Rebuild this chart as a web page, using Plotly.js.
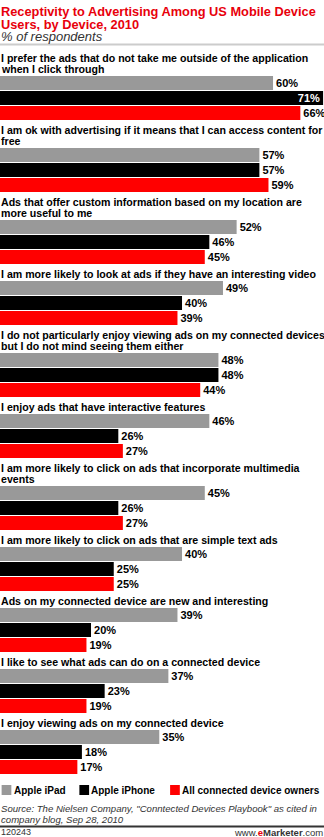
<!DOCTYPE html>
<html>
<head>
<meta charset="utf-8">
<script src="https://cdn.plot.ly/plotly-3.0.1.min.js"></script>
<style>html,body{margin:0;padding:0;background:#fff;}#chart{width:324px;height:837px;}</style>
</head>
<body>
<div id="chart"></div>
<script>
const categories = [
  "I prefer the ads that do not take me outside of the application<br>when I click through",
  "I am ok with advertising if it means that I can access content for<br>free",
  "Ads that offer custom information based on my location are<br>more useful to me",
  "I am more likely to look at ads if they have an interesting video",
  "I do not particularly enjoy viewing ads on my connected devices<br>but I do not mind seeing them either",
  "I enjoy ads that have interactive features",
  "I am more likely to click on ads that incorporate multimedia<br>events",
  "I am more likely to click on ads that are simple text ads",
  "Ads on my connected device are new and interesting",
  "I like to see what ads can do on a connected device",
  "I enjoy viewing ads on my connected device"
];
const seriesNames = ["Apple iPad", "Apple iPhone", "All connected device owners"];
const ipad   = [60, 57, 52, 49, 48, 46, 45, 40, 39, 37, 35];
const iphone = [71, 57, 46, 40, 48, 26, 26, 25, 20, 23, 18];
const allOwners = [66, 59, 45, 39, 44, 27, 27, 25, 19, 19, 17];

const titleLines = ["Receptivity to Advertising Among US Mobile Device", "Users, by Device, 2010"];
const subtitle = "% of respondents";
const sourceLines = ["Source: The Nielsen Company, \"Conntected Devices Playbook\" as cited in", "company blog, Sep 28, 2010"];
const chartId = "120243";

// ---- layout computation (pixel units on y axis) ----
const W = 324, H = 837;
const colors = ["#999999", "#000000", "#ff0000"];
const FONT = "Liberation Sans, Arial, sans-serif";
const barPitch = 15, barH = 14, lineH = 11;
const lines = categories.map(c => c.split("<br>"));
const tops = [];
let t = 76;
lines.forEach((l, i) => {
  if (i > 0) t += 3 * barPitch + 5 + lineH * l.length;
  tops.push(t);
});
const allSeries = [ipad, iphone, allOwners];
const xMax = 71.2;

const traces = allSeries.map((vals, j) => ({
  type: "bar",
  orientation: "h",
  name: seriesNames[j],
  x: vals,
  y: tops.map(tp => tp + barH / 2 + barPitch * j),
  width: barH,
  marker: { color: colors[j], line: { width: 0 } },
  texttemplate: "%{x}%",
  textposition: vals.map(v => (v > 67 ? "inside" : "outside")),
  insidetextanchor: "end",
  insidetextfont: { family: FONT, size: 11, color: "#ffffff", weight: "bold" },
  outsidetextfont: { family: FONT, size: 11, color: "#000000", weight: "bold" },
  textfont: { family: FONT, size: 11, weight: "bold" },
  constraintext: "none",
  cliponaxis: false,
  hoverinfo: "skip",
  showlegend: false
}));

const annotations = [];
// category labels
lines.forEach((l, i) => {
  l.forEach((txt, k) => {
    annotations.push({
      xref: "paper", yref: "y", x: 0, y: tops[i] - 7 - lineH * (l.length - 1 - k),
      xanchor: "left", yanchor: "middle", showarrow: false, text: txt, borderpad: 0,
      font: { family: FONT, size: 10.6, color: "#000", weight: "bold" }
    });
  });
});
// title
titleLines.forEach((txt, k) => {
  annotations.push({
    xref: "paper", yref: "y", x: 0, y: 11 + 13.5 * k, xanchor: "left", yanchor: "middle",
    showarrow: false, text: txt, borderpad: 0,
    font: { family: FONT, size: 12.8, color: "#e8000b", weight: "bold" }
  });
});
annotations.push({
  xref: "paper", yref: "y", x: 0, y: 36, xanchor: "left", yanchor: "middle",
  showarrow: false, text: "<i>" + subtitle + "</i>", borderpad: 0,
  font: { family: FONT, size: 13, color: "#333" }
});
// legend
const legX = [0.005, 0.245, 0.525];
seriesNames.forEach((n, j) => {
  annotations.push({
    xref: "paper", yref: "y", x: legX[j] + 0.034, y: 790, xanchor: "left", yanchor: "middle",
    showarrow: false, text: n, borderpad: 0,
    font: { family: FONT, size: 10, color: "#000", weight: "bold" }
  });
});
// source
sourceLines.forEach((txt, k) => {
  annotations.push({
    xref: "paper", yref: "y", x: 0, y: 808 + 11 * k, xanchor: "left", yanchor: "middle",
    showarrow: false, text: "<i>" + txt + "</i>", borderpad: 0,
    font: { family: FONT, size: 9.6, color: "#333" }
  });
});
annotations.push({
  xref: "paper", yref: "y", x: 0, y: 832, xanchor: "left", yanchor: "middle",
  showarrow: false, text: chartId, borderpad: 0, font: { family: FONT, size: 9, color: "#333" }
});
annotations.push({
  xref: "paper", yref: "y", x: 1, y: 832, xanchor: "right", yanchor: "middle",
  showarrow: false, borderpad: 0, text: "www.<b><span style='color:#e8000b'>e</span>Marketer</b>.com",
  font: { family: FONT, size: 9.5, color: "#333" }
});

const shapes = [
  { type: "line", xref: "paper", yref: "y", x0: 0, x1: 1, y0: 44.5, y1: 44.5, line: { color: "#cccccc", width: 2 } },
  { type: "line", xref: "paper", yref: "y", x0: 0, x1: 1, y0: 826.5, y1: 826.5, line: { color: "#333333", width: 2 } }
];
seriesNames.forEach((n, j) => {
  shapes.push({ type: "rect", xref: "paper", yref: "y", x0: legX[j], x1: legX[j] + 0.03, y0: 785, y1: 795,
    fillcolor: colors[j], line: { width: 0 } });
});

const layout = {
  width: W, height: H,
  margin: { l: 0, r: 0, t: 0, b: 0, pad: 0 },
  paper_bgcolor: "#fff", plot_bgcolor: "#fff",
  barmode: "overlay",
  xaxis: { range: [0, xMax], visible: false, fixedrange: true },
  yaxis: { range: [H, 0], visible: false, fixedrange: true },
  annotations, shapes,
  showlegend: false
};
Plotly.newPlot("chart", traces, layout, { displayModeBar: false, staticPlot: true });
</script>
</body>
</html>
